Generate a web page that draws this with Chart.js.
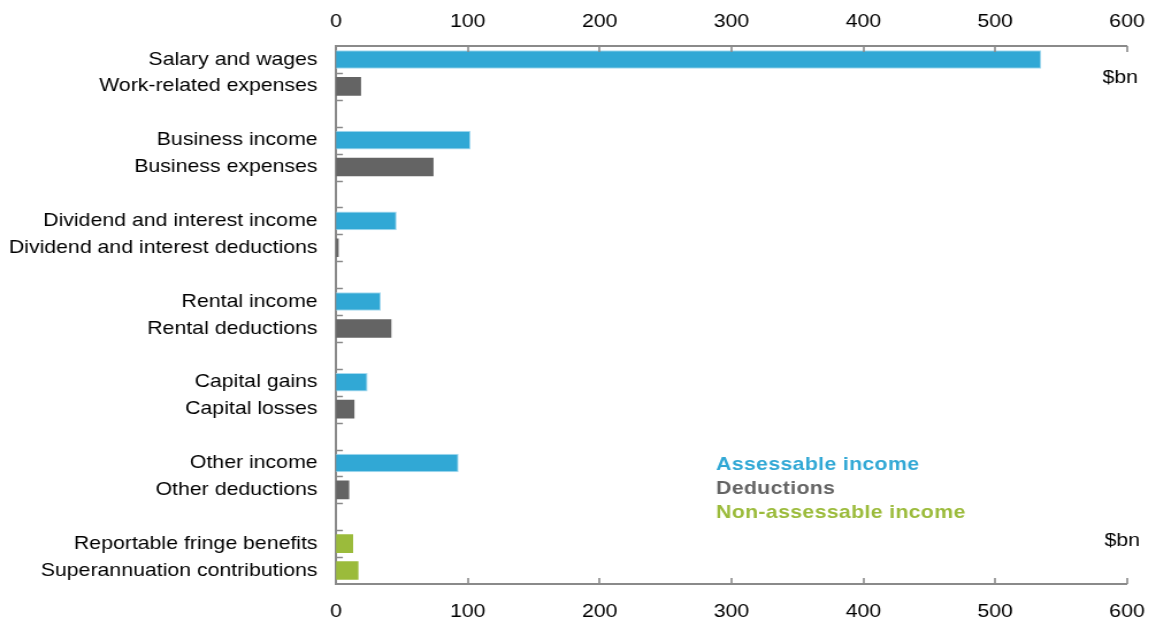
<!DOCTYPE html>
<html>
<head>
<meta charset="utf-8">
<script src="https://cdn.jsdelivr.net/npm/chart.js@4"></script>
<style>
    html, body { margin: 0; padding: 0; background: #fff; overflow: hidden; }
</style>
</head>
<body>
<canvas id="chart" width="1005" height="623" style="display:block;width:1156px;height:623px"></canvas>
<script>
// Rows top to bottom; empty strings leave a blank slot between groups
const categories = [
    'Salary and wages', 'Work-related expenses', '',
    'Business income', 'Business expenses', '',
    'Dividend and interest income', 'Dividend and interest deductions', '',
    'Rental income', 'Rental deductions', '',
    'Capital gains', 'Capital losses', '',
    'Other income', 'Other deductions', '',
    'Reportable fringe benefits', 'Superannuation contributions'
];

// $bn
const assessableIncome = [535, null, null, 102, null, null, 46, null, null, 34, null, null, 24, null, null, 93, null, null, null, null];
const deductions = [null, 19, null, null, 74, null, null, 2, null, null, 42, null, null, 14, null, null, 10, null, null, null];
const nonAssessableIncome = [null, null, null, null, null, null, null, null, null, null, null, null, null, null, null, null, null, null, 13, 17];

const xTicks = [0, 100, 200, 300, 400, 500, 600];

const seriesNames = ['Assessable income', 'Deductions', 'Non-assessable income'];
const BLUE = '#31a8d5';
const GREY = '#646464';
const GREEN = '#9bbb3b';
const AXIS = '#8a8a8a';
const FONT = '"Liberation Sans", Arial, sans-serif';
const FONT_SIZE = 18.5;

// The canvas is drawn narrower and stretched by CSS, giving the wide lettering
const STRETCH = 1156 / 1005;

const valueAxis = (position, padding, height) => ({
    type: 'linear',
    position: position,
    min: xTicks[0],
    max: xTicks[xTicks.length - 1],
    stacked: true,
    afterBuildTicks: scale => { scale.ticks = xTicks.map(v => ({ value: v })); },
    afterFit: scale => {
        scale.height = height;
        scale.paddingLeft = 0;
        scale.paddingRight = 0;
    },
    grid: { display: false, drawTicks: false },
    border: { display: true, color: AXIS, width: 2 },
    ticks: {
        padding: padding,
        color: '#000',
        font: { family: FONT, size: FONT_SIZE }
    }
});

// Inner tick marks, legend text and unit labels
const decorations = {
    id: 'decorations',
    afterDraw(chart) {
        const { ctx, chartArea: area, scales } = chart;
        ctx.save();
        ctx.strokeStyle = AXIS;
        ctx.lineWidth = 1.6;
        ctx.beginPath();
        xTicks.slice(1).forEach(v => {
            const px = Math.round(scales.x.getPixelForValue(v));
            ctx.moveTo(px, area.top);
            ctx.lineTo(px, area.top + 6);
            ctx.moveTo(px, area.bottom);
            ctx.lineTo(px, area.bottom - 6);
        });
        for (let i = 1; i < categories.length; i++) {
            const py = Math.round((scales.y.getPixelForValue(i - 1) + scales.y.getPixelForValue(i)) / 2) + 0.5;
            ctx.moveTo(area.left, py);
            ctx.lineTo(area.left + 6, py);
        }
        ctx.stroke();

        ctx.textBaseline = 'middle';
        ctx.textAlign = 'left';
        ctx.font = `bold ${FONT_SIZE}px ${FONT}`;
        ctx.letterSpacing = '0.3px';
        const legendX = 716 / STRETCH;
        [BLUE, GREY, GREEN].forEach((c, i) => {
            ctx.fillStyle = c;
            ctx.fillText(seriesNames[i], legendX, 465 + i * 24);
        });
        ctx.letterSpacing = '0px';

        ctx.font = `${FONT_SIZE}px ${FONT}`;
        ctx.fillStyle = '#000';
        ctx.textAlign = 'right';
        ctx.fillText('$bn', 1138 / STRETCH, 78);
        ctx.fillText('$bn', 1140 / STRETCH, 541);
        ctx.restore();
    }
};

const chartData = {
    labels: categories,
    datasets: [
        { label: seriesNames[0], data: assessableIncome, backgroundColor: BLUE, borderColor: '#a6daf0', borderWidth: 1 },
        { label: seriesNames[1], data: deductions, backgroundColor: GREY },
        { label: seriesNames[2], data: nonAssessableIncome, backgroundColor: GREEN }
    ]
};

new Chart(document.getElementById('chart'), {
    type: 'bar',
    data: chartData,
    options: {
        indexAxis: 'y',
        responsive: false,
        devicePixelRatio: 1,
        animation: false,
        datasets: {
            bar: { barPercentage: 0.69, categoryPercentage: 1.0 }
        },
        layout: { padding: { top: 0, right: 1156 / STRETCH - 1127 / STRETCH, bottom: 0, left: 0 } },
        scales: {
            x: valueAxis('top', 13, 46),
            x2: valueAxis('bottom', 17, 623 - 584),
            y: {
                type: 'category',
                stacked: true,
                afterFit: scale => { scale.width = 336 / STRETCH; },
                grid: { display: false, drawTicks: false },
                border: { display: true, color: AXIS, width: 2 },
                ticks: {
                    padding: 16,
                    autoSkip: false,
                    color: '#000',
                    font: { family: FONT, size: FONT_SIZE }
                }
            }
        },
        plugins: {
            legend: { display: false },
            tooltip: { enabled: false }
        }
    },
    plugins: [decorations]
});
</script>
</body>
</html>
